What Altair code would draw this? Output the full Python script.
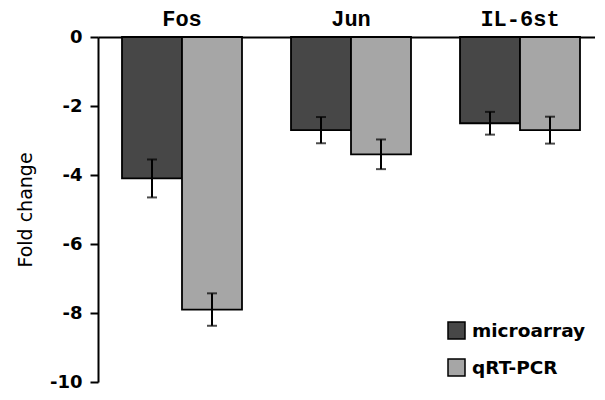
import altair as alt
import pandas as pd

genes = ["Fos", "Jun", "IL-6st"]
methods = ["microarray", "qRT-PCR"]
microarray_vals = [-4.1, -2.7, -2.5]
microarray_err = [0.55, 0.38, 0.33]
qrtpcr_vals = [-7.9, -3.4, -2.7]
qrtpcr_err = [0.47, 0.43, 0.39]
y_ticks = [0, -2, -4, -6, -8, -10]

rows = []
for g, v, e in zip(genes, microarray_vals, microarray_err):
    rows.append({"gene": g, "method": "microarray", "value": v, "lo": v - e, "hi": v + e})
for g, v, e in zip(genes, qrtpcr_vals, qrtpcr_err):
    rows.append({"gene": g, "method": "qRT-PCR", "value": v, "lo": v - e, "hi": v + e})
df = pd.DataFrame(rows)

x_scale = alt.Scale(paddingInner=0.29, paddingOuter=0.142, range=[0, 506])
x_axis = alt.Axis(
    orient="top",
    labelAngle=0,
    ticks=False,
    tickSize=0,
    labelPadding=7,
    labelFont="Liberation Mono",
    labelFontWeight="bold",
    labelFontSize=22,
    labelColor="black",
    domainColor="black",
    domainWidth=2,
)
y_axis = alt.Axis(
    values=y_ticks,
    labelExpr="'' + datum.value",
    grid=False,
    domainColor="black",
    domainWidth=2,
    tickColor="black",
    tickWidth=2,
    tickSize=8,
    labelPadding=8,
    labelFont="DejaVu Sans",
    labelFontWeight="bold",
    labelFontSize=18,
    labelColor="black",
    titleFont="DejaVu Sans",
    titleFontWeight="normal",
    titleFontSize=19,
    titleColor="black",
    titlePadding=14,
)
x_enc = alt.X("gene:N", sort=genes, title=None, scale=x_scale, axis=x_axis)
xoff = alt.XOffset("method:N", sort=methods, scale=alt.Scale(paddingInner=0, paddingOuter=0))
y_scale = alt.Scale(domain=[-10, 0], nice=False, zero=False)

bars = alt.Chart(df).mark_bar(stroke="black", strokeWidth=1.8).encode(
    x=x_enc,
    xOffset=xoff,
    y=alt.Y("value:Q", scale=y_scale, title="Fold change", axis=y_axis),
    y2=alt.value(0),
    color=alt.Color(
        "method:N",
        sort=methods,
        scale=alt.Scale(domain=methods, range=["#474747", "#a6a6a6"]),
        legend=alt.Legend(
            title=None,
            orient="none",
            legendX=349,
            legendY=284,
            symbolType="square",
            symbolSize=289,
            symbolStrokeColor="black",
            symbolStrokeWidth=1.5,
            labelFont="DejaVu Sans",
            labelFontWeight="bold",
            labelFontSize=18.5,
            labelColor="black",
            rowPadding=14,
            labelOffset=6,
        ),
    ),
)

err = alt.Chart(df).mark_rule(color="black", strokeWidth=2).encode(
    x=x_enc,
    xOffset=xoff,
    y=alt.Y("lo:Q", scale=y_scale, title="Fold change", axis=y_axis),
    y2="hi:Q",
)
cap_lo = alt.Chart(df).mark_tick(color="black", thickness=2, size=10).encode(
    x=x_enc,
    xOffset=xoff,
    y=alt.Y("lo:Q", scale=y_scale, title="Fold change", axis=y_axis),
)
cap_hi = alt.Chart(df).mark_tick(color="black", thickness=2, size=10).encode(
    x=x_enc,
    xOffset=xoff,
    y=alt.Y("hi:Q", scale=y_scale, title="Fold change", axis=y_axis),
)

chart = (
    alt.layer(bars, err, cap_lo, cap_hi)
    .properties(
        width=497,
        height=345,
        autosize=alt.AutoSizeParams(type="none"),
        padding={"left": 90, "top": 29, "right": 0, "bottom": 10},
    )
    .configure_view(stroke="transparent")
)

chart.save("out.html", embed_options={"renderer": "svg", "actions": False})
